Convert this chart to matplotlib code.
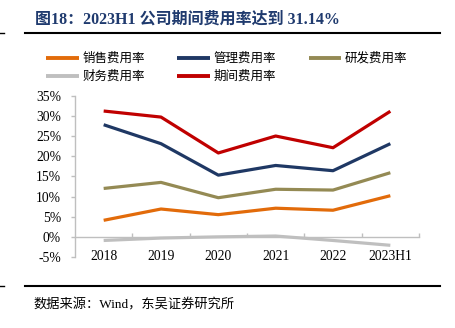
import matplotlib
matplotlib.use("Agg")
import matplotlib.pyplot as plt
from matplotlib.lines import Line2D
import numpy as np

categories = ["2018", "2019", "2020", "2021", "2022", "2023H1"]
sales = [4.1, 6.9, 5.5, 7.1, 6.6, 10.2]
admin = [27.8, 23.1, 15.3, 17.7, 16.4, 23.1]
rnd = [12.0, 13.5, 9.7, 11.8, 11.6, 15.9]
finance = [-0.9, -0.3, 0.0, 0.2, -0.9, -2.1]
period = [31.2, 29.7, 20.8, 25.0, 22.1, 31.14]
yticks = [-5, 0, 5, 10, 15, 20, 25, 30, 35]

series = [
    ("销售费用率", sales, "#E26B0A"),
    ("管理费用率", admin, "#1F3864"),
    ("研发费用率", rnd, "#948A54"),
    ("财务费用率", finance, "#BFBFBF"),
    ("期间费用率", period, "#C00000"),
]

serif = ["Liberation Serif", "Noto Sans CJK SC"]
cjk = ["Noto Sans CJK SC", "Liberation Serif"]

W, H = 455, 328
fig = plt.figure(figsize=(W / 100, H / 100), dpi=100)
ax = fig.add_axes([75 / W, 1 - 257 / H, (419 - 75) / W, (257 - 95.7) / H])

x = np.arange(len(categories))
handles = {}
for name, vals, color in series:
    ln, = ax.plot(x, vals, color=color, lw=2.3, solid_capstyle="butt", label=name, zorder=3)
    handles[name] = ln

ax.set_xlim(-0.5, len(categories) - 0.5)
ax.set_ylim(yticks[0], yticks[-1])

# spines
for s in ["top", "right"]:
    ax.spines[s].set_visible(False)
ax.spines["left"].set_color("#BFBFBF")
ax.spines["left"].set_linewidth(1.0)
ax.spines["bottom"].set_position(("data", 0))
ax.spines["bottom"].set_color("#BFBFBF")
ax.spines["bottom"].set_linewidth(1.0)

ax.set_yticks(yticks)
ax.set_yticklabels([f"{v}%" for v in yticks], fontfamily=serif, fontsize=9.8)
ax.tick_params(axis="y", direction="out", length=3, width=1, color="#BFBFBF", pad=7)

# category boundary ticks on the zero line
bounds = np.arange(0.5, len(categories) - 0.5 + 1e-9, 1.0)
ax.set_xticks(bounds)
ax.set_xticklabels([])
ax.tick_params(axis="x", direction="in", length=3, width=1, color="#BFBFBF")

# category labels near bottom of plot area
sec = ax.secondary_xaxis("bottom")
sec.set_xticks(x)
sec.set_xticklabels(categories, fontfamily=serif, fontsize=9.8)
sec.tick_params(length=0, pad=-5)
sec.spines["bottom"].set_visible(False)

# legend in row-major order
order = ["销售费用率", "财务费用率", "管理费用率", "期间费用率", "研发费用率"]
leg = fig.legend([handles[n] for n in order], order, ncol=3, loc="upper left",
                 bbox_to_anchor=(46 / W, 1 - 52 / H), frameon=False,
                 prop={"family": cjk, "size": 9}, handlelength=2.6,
                 handletextpad=0.3, columnspacing=2.6, labelspacing=0.4,
                 borderpad=0, borderaxespad=0)
for l in leg.get_lines():
    l.set_linewidth(2.8)

# title
fig.text(35 / W, 1 - 20 / H, "图18：2023H1 公司期间费用率达到 31.14%", fontfamily=serif,
         fontsize=11.5, fontweight="bold", color="#1F3A6E", va="center", ha="left")

# rules
for yy in [33, 286]:
    fig.add_artist(Line2D([25 / W, 440 / W], [1 - yy / H] * 2, color="black", lw=1.5))
    fig.add_artist(Line2D([0, 4 / W], [1 - yy / H] * 2, color="black", lw=1.0))

fig.text(33 / W, 1 - 305 / H, "数据来源：Wind，东吴证券研究所", fontfamily=serif,
         fontsize=9.5, color="black", va="center", ha="left")

fig.savefig("out.png", dpi=100)
